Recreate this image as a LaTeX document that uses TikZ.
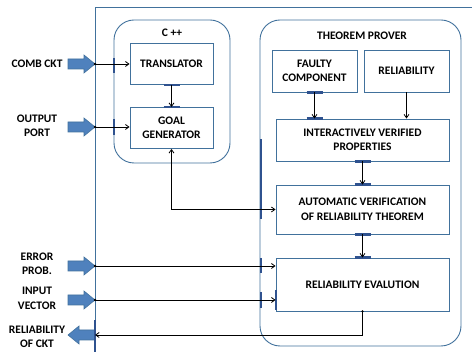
\documentclass[tikz,border=0pt]{standalone}
\usepackage{fontspec}
\setmainfont{Carlito}
\usetikzlibrary{arrows.meta}

\definecolor{edgeblue}{RGB}{65,113,156}
\definecolor{portblue}{RGB}{47,82,143}
\definecolor{fillblue}{RGB}{79,129,189}

\tikzset{
  blk/.style={draw=edgeblue, line width=0.9pt, minimum width=83pt, minimum height=41pt,
    align=center, inner sep=1pt},
  grp/.style={draw=edgeblue, line width=0.9pt, rounded corners=20pt},
  lbl/.style={align=center, inner sep=0pt},
  port/.style={draw=portblue, line width=2.6pt},
  conn/.style={black, line width=0.8pt, -{Straight Barb[length=3.5pt,width=5pt]}},
  portarrow/.pic={
    \draw[draw=edgeblue, fill=fillblue, line width=0.6pt]
      (-27,-5) -- (-11,-5) -- (-11,-9) -- (0,0) -- (-11,9) -- (-11,5) -- (-27,5) -- cycle;
  }
}

\begin{document}
\begin{tikzpicture}[x=1pt,y=-1pt,font=\fontsize{11.5}{14.5}\selectfont\bfseries]
            \useasboundingbox (0,0) rectangle (472,352);
            % outer frame
            \draw[edgeblue, line width=0.8pt] (95,352) -- (95,7) -- (472,7);
            % groups
            \node[grp, minimum width=116pt, minimum height=143pt] (cpp) at (172,91.5) {};
            \node[lbl] (cpplbl) at (172,33) {C ++};
            \node[grp, minimum width=201pt, minimum height=326pt] (tp) at (360.5,183) {};
            \node[lbl] (tplbl) at (362,36) {THEOREM PROVER};
            % blocks
            \node[blk] (trans) at (171.5,64) {TRANSLATOR};
            \node[blk] (goal) at (171.5,128) {GOAL\\GENERATOR};
            \node[blk, minimum width=85pt, minimum height=42pt] (faulty) at (314.5,71) {FAULTY\\COMPONENT};
            \node[blk, minimum width=85pt, minimum height=42pt] (rel) at (406.5,71) {RELIABILITY};
            \node[blk, minimum width=173pt, minimum height=42pt] (ivp) at (362.5,140) {INTERACTIVELY VERIFIED\\PROPERTIES};
            \node[blk, minimum width=173pt, minimum height=49pt] (auto) at (362.5,209.5) {AUTOMATIC VERIFICATION\\OF RELIABILITY THEOREM};
            \node[blk, minimum width=173pt, minimum height=53pt] (releval) at (362.5,284.5) {RELIABILITY EVALUTION};
            % inputs and output
            \node[lbl] (combl) at (37,64) {COMB CKT};
            \node[lbl] (outl) at (37,126) {OUTPUT\\PORT};
            \node[lbl] (errl) at (37,264) {ERROR\\PROB.};
            \node[lbl] (inl) at (37,298.5) {INPUT\\VECTOR};
            \node[lbl] (rell) at (37,337) {RELIABILITY\\OF CKT};
            \pic at (95,64) {portarrow};
            \pic at (95,127) {portarrow};
            \pic at (95,266) {portarrow};
            \pic at (95,300) {portarrow};
            \pic[rotate=180] at (68,335) {portarrow};
            \coordinate (c1) at (95,64);
            \coordinate (c2) at (95,127);
            \coordinate (c3) at (95,266);
            \coordinate (c4) at (95,300);
            \coordinate (c5) at (95,335);
            % port marks
            \draw[port] (114,58) -- (114,73);
            \draw[port] (114,119) -- (114,135);
            \draw[port] ([xshift=-8pt]trans.south) -- ([xshift=8pt]trans.south);
            \draw[port] ([xshift=-8pt]goal.north) -- ([xshift=8pt]goal.north);
            \draw[port] ([xshift=-8pt]faulty.south) -- ([xshift=8pt]faulty.south);
            \draw[port] ([xshift=-56pt]ivp.north) -- ([xshift=-40pt]ivp.north);
            \draw[port] ([xshift=-8pt]ivp.south) -- ([xshift=8pt]ivp.south);
            \draw[port] ([xshift=-8pt]auto.north) -- ([xshift=8pt]auto.north);
            \draw[port] ([xshift=-8pt]auto.south) -- ([xshift=8pt]auto.south);
            \draw[port] ([xshift=-8pt]releval.north) -- ([xshift=8pt]releval.north);
            \draw[port] (261,139) -- (261,219);
            \draw[port] (261,258) -- (261,273);
            \draw[port] (261,292) -- (261,308);
            \draw[port] (276,290) -- (276,310);
            \draw[port] (95,320) -- (95,352);
            % connectors
            \draw[conn] (c1) -- (trans.west);
            \draw[conn] (c2) -- (goal.west |- c2);
            \draw[conn] (trans) -- (goal);
            \draw[conn] (faulty) -- (faulty |- ivp.north);
            \draw[conn] (rel) -- (rel |- ivp.north);
            \draw[conn] (ivp) -- (auto);
            \draw[conn] (auto) -- (releval);
            \draw[conn, {Straight Barb[length=3.5pt,width=5pt]}-{Straight Barb[length=3.5pt,width=5pt]}] (goal.south) |- (auto.west);
            \draw[conn] (c3) -- (releval.west |- c3);
            \draw[conn] (c4) -- (releval.west |- c4);
            \draw[conn] (releval.south) |- (c5);
            \fill (c1) circle (1.3pt) (c2) circle (1.3pt) (c3) circle (1.3pt) (c4) circle (1.3pt)
                  (releval.south) circle (1.3pt);
        \end{tikzpicture}
\end{document}
